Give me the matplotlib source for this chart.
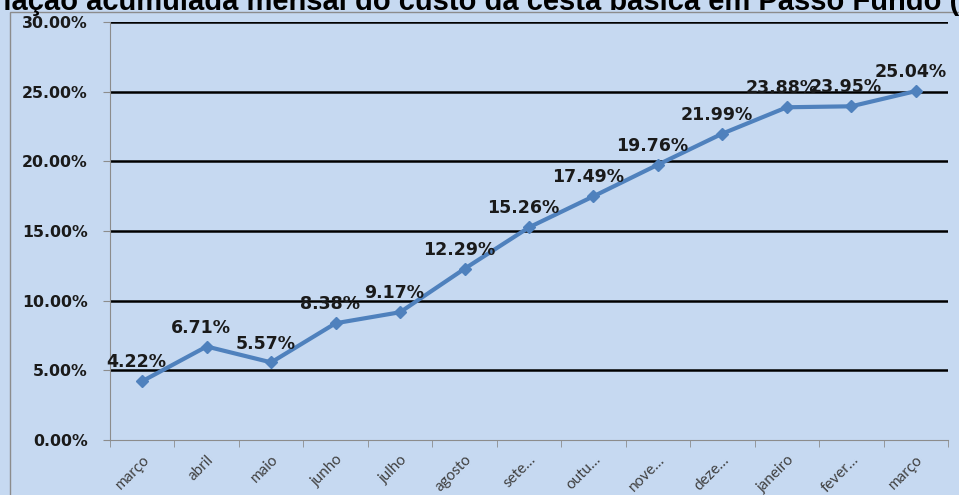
import matplotlib
matplotlib.use('Agg')
import matplotlib.pyplot as plt
from matplotlib.patches import Rectangle
from matplotlib.ticker import FuncFormatter

months = ['março', 'abril', 'maio', 'junho', 'julho', 'agosto', 'sete…',
          'outu…', 'nove…', 'deze…', 'janeiro', 'fever…', 'março']
values = [4.22, 6.71, 5.57, 8.38, 9.17, 12.29, 15.26, 17.49, 19.76,
          21.99, 23.88, 23.95, 25.04]
title = 'Variação acumulada mensal do custo da cesta básica em Passo Fundo (RS)'

bg = '#C6D9F1'
line_color = '#4F81BD'

fig = plt.figure(figsize=(9.59, 4.95), dpi=100, facecolor=bg)
W, H = 959, 495
ax = fig.add_axes([110 / W, 1 - 440 / H, 838 / W, 418 / H])
ax.set_facecolor(bg)

# chart area border
fig.patches.append(Rectangle((10 / W, -0.01), 1.0, 1 - 12 / H + 0.01,
                             transform=fig.transFigure, fill=False,
                             edgecolor='#8C8C8C', linewidth=1))

x = list(range(len(values)))
ax.plot(x, values, color=line_color, linewidth=3, marker='D',
        markersize=6.5, zorder=3)

for xi, v in zip(x, values):
    ax.annotate(f'{v:.2f}%', (xi, v), xytext=(-4, 10), textcoords='offset points',
                ha='center', va='baseline', fontsize=12.5, fontweight='bold',
                family='DejaVu Sans', color='#1a1a1a', zorder=4)

ax.set_xlim(-0.5, len(values) - 0.5)
ax.set_ylim(0, 30)
ax.set_yticks(range(0, 31, 5))
ax.yaxis.set_major_formatter(FuncFormatter(lambda v, p: f'{v:.2f}%'))
for y in range(5, 31, 5):
    ax.axhline(y, color='black', linewidth=1.8, zorder=1)

ax.set_xticks(x)
ax.set_xticklabels(months, rotation=45, ha='right', rotation_mode='anchor',
                   fontsize=11, family='Lato', color='#404040')
ax.set_xticks([i - 0.5 for i in range(len(values) + 1)], minor=True)
ax.tick_params(axis='x', which='major', length=0, pad=9)
ax.tick_params(axis='x', which='minor', length=5, color='#8C8C8C')
ax.tick_params(axis='y', length=5, color='#8C8C8C', pad=11)
for lab in ax.get_yticklabels():
    lab.set_fontweight('bold')
    lab.set_fontsize(11.3)
    lab.set_family('DejaVu Sans')
    lab.set_color('#1a1a1a')

for side in ['top', 'right']:
    ax.spines[side].set_visible(False)
ax.spines['left'].set_color('#8C8C8C')
ax.spines['bottom'].set_color('#8C8C8C')

# title sits mostly above the top edge of the image, as in the source
fig.text(483.5 / W, 1 - 9.5 / H, title, ha='center', va='baseline', fontsize=21,
         fontweight='bold', family='Liberation Sans', color='black')

fig.savefig('out.png', dpi=100, facecolor=bg)
